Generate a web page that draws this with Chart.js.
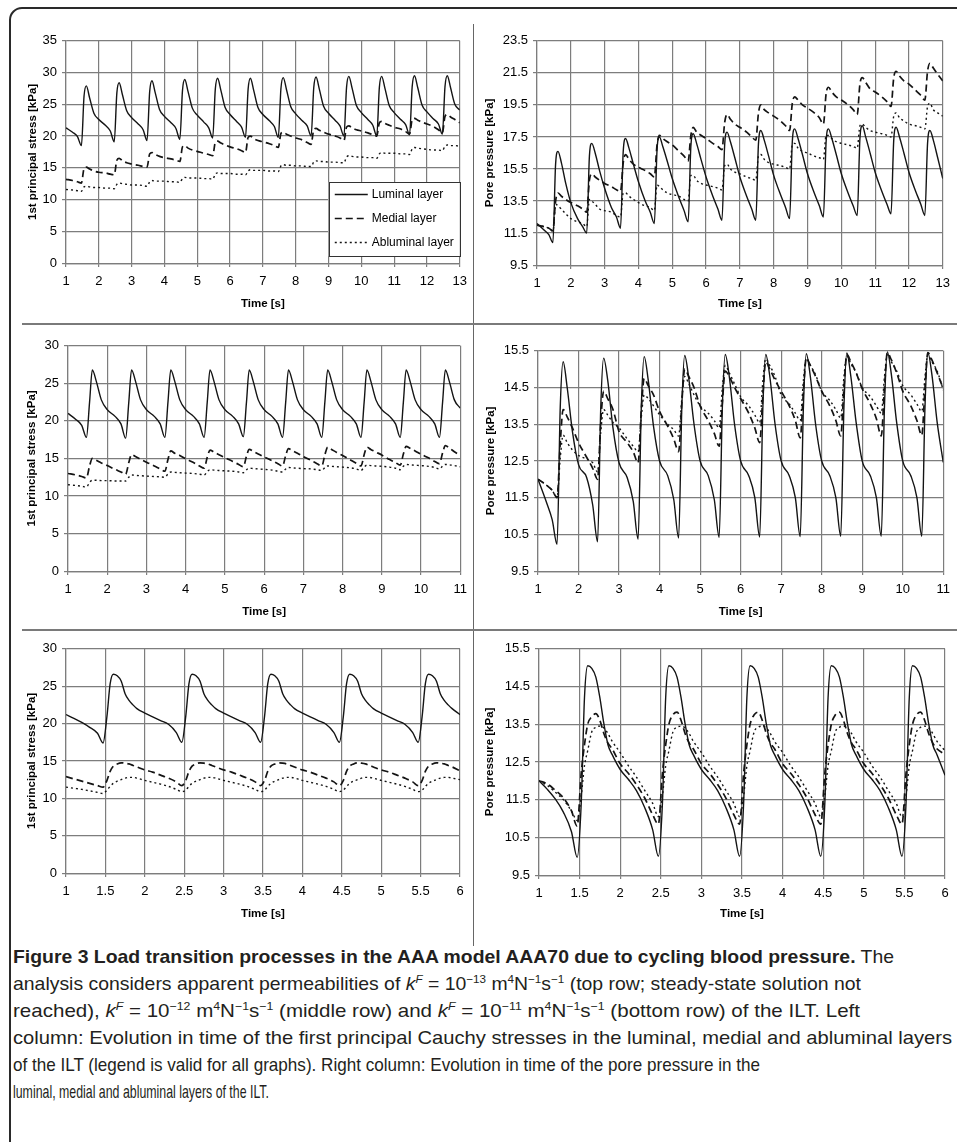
<!DOCTYPE html>
<html>
<head>
<meta charset="utf-8">
<script src="https://cdn.jsdelivr.net/npm/chart.js@4.4.1/dist/chart.umd.min.js"></script>
<style>
  html, body { margin: 0; padding: 0; background: #fff; overflow: hidden; width: 957px; height: 1142px; }
  #frame { position: absolute; left: 9px; top: 7px; width: 1000px; height: 1200px; border: 2px solid #2a2a2a; border-radius: 13px; box-sizing: border-box; }
  .vdiv { position: absolute; left: 473px; top: 24px; width: 1px; height: 922px; background: #666; }
  .hdiv { position: absolute; left: 22px; width: 935px; height: 2px; background: #7a7a7a; }
  canvas { position: absolute; }
  #caption { position: absolute; left: 13px; top: 943px; font-family: 'Liberation Sans', Arial, sans-serif; font-size: 19px; line-height: 27px; color: #231f20; }
  .ln { white-space: nowrap; transform-origin: 0 50%; width: max-content; }
  sup { font-size: 0.6em; line-height: 0; vertical-align: 0.6em; }
</style>
</head>
<body>
<div id="frame"></div>
<div class="vdiv"></div>
<div class="hdiv" style="top:323px"></div>
<div class="hdiv" style="top:629px"></div>

<div id="caption">
  <div class="ln" data-w="881"><b>Figure 3 Load transition processes in the AAA model AAA70 due to cycling blood pressure.</b> The</div>
  <div class="ln" data-w="848">analysis considers apparent permeabilities of <i>k</i><sup><i>F</i></sup> = 10<sup>−13</sup> m<sup>4</sup>N<sup>−1</sup>s<sup>−1</sup> (top row; steady-state solution not</div>
  <div class="ln" data-w="847">reached), <i>k</i><sup><i>F</i></sup> = 10<sup>−12</sup> m<sup>4</sup>N<sup>−1</sup>s<sup>−1</sup> (middle row) and <i>k</i><sup><i>F</i></sup> = 10<sup>−11</sup> m<sup>4</sup>N<sup>−1</sup>s<sup>−1</sup> (bottom row) of the ILT. Left</div>
  <div class="ln" data-w="939">column: Evolution in time of the first principal Cauchy stresses in the luminal, medial and abluminal layers</div>
  <div class="ln" data-w="747">of the ILT (legend is valid for all graphs). Right column: Evolution in time of the pore pressure in the</div>
  <div class="ln" data-w="256">luminal, medial and abluminal layers of the ILT.</div>
</div>

<script>
// Series names (legend)
const seriesNames = ["Luminal layer", "Medial layer", "Abluminal layer"];

// Tick labels
const timeTicks13 = [1, 2, 3, 4, 5, 6, 7, 8, 9, 10, 11, 12, 13];
const timeTicks11 = [1, 2, 3, 4, 5, 6, 7, 8, 9, 10, 11];
const timeTicks6 = [1, 1.5, 2, 2.5, 3, 3.5, 4, 4.5, 5, 5.5, 6];
const stressTicks35 = [0, 5, 10, 15, 20, 25, 30, 35];
const stressTicks30 = [0, 5, 10, 15, 20, 25, 30];
const poreTicksTop = [9.5, 11.5, 13.5, 15.5, 17.5, 19.5, 21.5, 23.5];
const poreTicks = [9.5, 10.5, 11.5, 12.5, 13.5, 14.5, 15.5];

// ---- top row (k = 1e-13), time 1..13 s
const timeTop = [
  1, 1.2, 1.35, 1.47, 1.55, 1.62, 1.72, 1.85,
  2, 2.2, 2.35, 2.47, 2.55, 2.62, 2.72, 2.85,
  3, 3.2, 3.35, 3.47, 3.55, 3.62, 3.72, 3.85,
  4, 4.2, 4.35, 4.47, 4.55, 4.62, 4.72, 4.85,
  5, 5.2, 5.35, 5.47, 5.55, 5.62, 5.72, 5.85,
  6, 6.2, 6.35, 6.47, 6.55, 6.62, 6.72, 6.85,
  7, 7.2, 7.35, 7.47, 7.55, 7.62, 7.72, 7.85,
  8, 8.2, 8.35, 8.47, 8.55, 8.62, 8.72, 8.85,
  9, 9.2, 9.35, 9.47, 9.55, 9.62, 9.72, 9.85,
  10, 10.2, 10.35, 10.47, 10.55, 10.62, 10.72, 10.85,
  11, 11.2, 11.35, 11.47, 11.55, 11.62, 11.72, 11.85,
  12, 12.2, 12.35, 12.47, 12.55, 12.62, 12.72, 12.85,
  13
];
const stressLumTop = [
  21.3, 20.6, 19.9, 18.5, 26.3, 27.9, 26.0, 23.6,
  22.6, 21.7, 20.8, 19.1, 26.8, 28.4, 26.5, 24.0,
  22.9, 21.9, 21.0, 19.3, 27.0, 28.7, 26.8, 24.2,
  23.1, 22.1, 21.2, 19.5, 27.2, 28.9, 27.0, 24.4,
  23.3, 22.2, 21.3, 19.7, 27.4, 29.1, 27.2, 24.5,
  23.4, 22.3, 21.4, 19.8, 27.4, 29.1, 27.2, 24.5,
  23.4, 22.4, 21.5, 19.8, 27.5, 29.2, 27.3, 24.6,
  23.5, 22.4, 21.6, 20.0, 27.6, 29.3, 27.4, 24.7,
  23.6, 22.5, 21.6, 20.0, 27.7, 29.4, 27.5, 24.8,
  23.7, 22.6, 21.7, 20.0, 27.7, 29.4, 27.5, 24.8,
  23.7, 22.6, 21.8, 20.2, 27.8, 29.5, 27.6, 24.9,
  23.8, 22.7, 21.9, 20.3, 27.8, 29.5, 27.6, 25.0,
  24.1
];
const stressMedTop = [
  13.2, 13.0, 12.8, 12.6, 14.9, 15.1, 14.8, 14.5,
  14.3, 14.2, 14.0, 13.9, 16.2, 16.5, 16.1, 15.8,
  15.6, 15.4, 15.2, 15.1, 17.2, 17.4, 17.1, 16.8,
  16.6, 16.4, 16.2, 16.0, 18.3, 18.5, 18.1, 17.8,
  17.6, 17.3, 17.1, 16.9, 19.0, 19.2, 18.9, 18.6,
  18.3, 18.0, 17.7, 17.4, 19.8, 20.0, 19.6, 19.3,
  19.1, 18.8, 18.5, 18.2, 20.4, 20.6, 20.3, 20.0,
  19.7, 19.4, 19.0, 18.7, 21.0, 21.2, 20.9, 20.6,
  20.3, 20.0, 19.7, 19.3, 21.4, 21.6, 21.3, 21.0,
  20.8, 20.5, 20.2, 20.0, 22.1, 22.3, 22.0, 21.7,
  21.4, 21.1, 20.7, 20.3, 22.6, 22.8, 22.5, 22.2,
  21.9, 21.5, 21.0, 20.5, 23.1, 23.4, 23.0, 22.6,
  22.1
];
const stressAblTop = [
  11.6, 11.5, 11.4, 11.3, 12.0, 12.1, 12.0, 11.9,
  11.9, 11.8, 11.8, 11.7, 12.4, 12.6, 12.5, 12.4,
  12.3, 12.3, 12.2, 12.1, 12.8, 13.0, 12.9, 12.9,
  12.9, 12.8, 12.8, 12.7, 13.3, 13.5, 13.4, 13.4,
  13.4, 13.3, 13.3, 13.2, 14.0, 14.2, 14.1, 14.1,
  14.1, 14.0, 14.0, 13.9, 14.5, 14.7, 14.6, 14.6,
  14.6, 14.5, 14.5, 14.4, 15.3, 15.5, 15.4, 15.4,
  15.3, 15.3, 15.2, 15.2, 15.9, 16.1, 16.0, 16.0,
  15.9, 15.9, 15.8, 15.8, 16.7, 16.9, 16.8, 16.7,
  16.7, 16.6, 16.6, 16.5, 17.2, 17.4, 17.3, 17.3,
  17.3, 17.2, 17.2, 17.1, 18.0, 18.2, 18.1, 18.0,
  17.9, 17.8, 17.8, 17.7, 18.4, 18.6, 18.5, 18.5,
  18.4
];
const poreLumTop = [
  12.1, 11.7, 11.4, 10.9, 15.8, 16.6, 15.9, 14.6,
  13.4, 12.4, 11.9, 11.5, 16.3, 17.1, 16.5, 15.4,
  14.3, 13.1, 12.5, 11.8, 16.6, 17.4, 16.8, 15.8,
  14.7, 13.5, 12.8, 12.1, 16.7, 17.5, 16.9, 16.0,
  14.9, 13.7, 12.9, 12.2, 16.9, 17.7, 17.1, 16.1,
  15.0, 13.8, 13.0, 12.3, 17.0, 17.8, 17.2, 16.2,
  15.0, 13.8, 13.0, 12.3, 17.1, 17.9, 17.3, 16.3,
  15.1, 13.9, 13.1, 12.4, 17.2, 18.0, 17.4, 16.4,
  15.2, 14.0, 13.2, 12.5, 17.2, 18.0, 17.4, 16.4,
  15.2, 14.0, 13.2, 12.6, 17.4, 18.2, 17.5, 16.5,
  15.3, 14.1, 13.3, 12.7, 17.3, 18.1, 17.5, 16.5,
  15.3, 14.1, 13.3, 12.6, 17.1, 17.9, 17.3, 16.2,
  14.9
];
const poreMedTop = [
  12.0, 11.9, 11.8, 11.65, 13.5, 14.0, 13.8, 13.6,
  13.4, 13.2, 13.0, 12.8, 14.8, 15.2, 15.0, 14.8,
  14.6, 14.4, 14.2, 14.1, 15.9, 16.4, 16.1, 15.8,
  15.6, 15.4, 15.2, 15.0, 17.0, 17.6, 17.4, 17.2,
  17.0, 16.6, 16.3, 16.0, 17.6, 18.1, 17.8, 17.6,
  17.4, 17.1, 16.9, 16.7, 18.4, 18.9, 18.6, 18.3,
  18.1, 17.8, 17.5, 17.3, 19.0, 19.5, 19.2, 19.0,
  18.8, 18.5, 18.2, 17.9, 19.6, 20.0, 19.8, 19.5,
  19.3, 19.0, 18.7, 18.3, 20.2, 20.6, 20.3, 20.0,
  19.8, 19.5, 19.2, 18.9, 20.8, 21.2, 20.9, 20.5,
  20.3, 20.0, 19.7, 19.4, 21.2, 21.6, 21.3, 21.0,
  20.8, 20.4, 20.1, 19.8, 21.6, 22.1, 21.8, 21.4,
  21.0
];
const poreAblTop = [
  12.0, 11.9, 11.8, 11.6, 13.3, 13.2, 13.0, 12.7,
  12.4, 12.2, 12.1, 11.9, 13.6, 13.5, 13.3, 13.0,
  12.9, 12.8, 12.6, 12.5, 14.0, 14.0, 13.8, 13.6,
  13.4, 13.2, 13.1, 12.9, 14.5, 14.4, 14.2, 14.0,
  13.9, 13.8, 13.6, 13.5, 15.1, 15.1, 14.8, 14.6,
  14.5, 14.4, 14.3, 14.2, 15.7, 15.8, 15.5, 15.3,
  15.2, 15.0, 14.9, 14.8, 16.3, 16.4, 16.1, 15.9,
  15.8, 15.7, 15.6, 15.5, 17.0, 17.1, 16.8, 16.6,
  16.5, 16.3, 16.2, 16.1, 17.6, 17.6, 17.4, 17.2,
  17.1, 17.0, 16.9, 16.8, 18.2, 18.3, 18.1, 17.9,
  17.8, 17.7, 17.6, 17.5, 18.8, 19.0, 18.7, 18.5,
  18.3, 18.2, 18.1, 18.0, 19.4, 19.6, 19.2, 19.0,
  18.8
];

// ---- middle row (k = 1e-12), time 1..11 s
const timeMid = [
  1, 1.2, 1.35, 1.47, 1.55, 1.62, 1.72, 1.85,
  2, 2.2, 2.35, 2.47, 2.55, 2.62, 2.72, 2.85,
  3, 3.2, 3.35, 3.47, 3.55, 3.62, 3.72, 3.85,
  4, 4.2, 4.35, 4.47, 4.55, 4.62, 4.72, 4.85,
  5, 5.2, 5.35, 5.47, 5.55, 5.62, 5.72, 5.85,
  6, 6.2, 6.35, 6.47, 6.55, 6.62, 6.72, 6.85,
  7, 7.2, 7.35, 7.47, 7.55, 7.62, 7.72, 7.85,
  8, 8.2, 8.35, 8.47, 8.55, 8.62, 8.72, 8.85,
  9, 9.2, 9.35, 9.47, 9.55, 9.62, 9.72, 9.85,
  10, 10.2, 10.35, 10.47, 10.55, 10.62, 10.72, 10.85,
  11
];
const stressLumMid = [
  21.0, 20.2, 19.4, 17.8, 22.5, 26.8, 25.3, 22.8,
  21.5, 20.6, 19.6, 17.7, 22.5, 26.8, 25.3, 22.8,
  21.5, 20.6, 19.6, 17.8, 22.6, 26.8, 25.3, 22.8,
  21.5, 20.6, 19.6, 17.8, 22.5, 26.8, 25.3, 22.8,
  21.5, 20.6, 19.6, 17.9, 22.5, 26.8, 25.3, 22.8,
  21.5, 20.6, 19.6, 17.8, 22.5, 26.8, 25.3, 22.8,
  21.5, 20.6, 19.6, 17.8, 22.6, 26.8, 25.3, 22.8,
  21.5, 20.6, 19.6, 17.8, 22.5, 26.8, 25.3, 22.8,
  21.5, 20.6, 19.6, 17.8, 22.5, 26.8, 25.3, 22.8,
  21.5, 20.6, 19.6, 17.8, 22.5, 26.8, 25.3, 22.8,
  21.7
];
const stressMedMid = [
  13.0, 12.8, 12.6, 12.4, 14.0, 15.0, 14.75, 14.4,
  14.05, 13.55, 13.2, 12.9, 14.45, 15.5, 15.25, 14.9,
  14.5, 14.0, 13.6, 13.3, 14.9, 16.0, 15.7, 15.4,
  14.95, 14.45, 14.0, 13.7, 15.15, 16.1, 15.85, 15.5,
  15.1, 14.6, 14.2, 13.9, 15.3, 16.2, 15.95, 15.6,
  15.2, 14.7, 14.3, 14.0, 15.4, 16.3, 16.05, 15.7,
  15.25, 14.75, 14.3, 14.0, 15.5, 16.5, 16.2, 15.8,
  15.4, 14.8, 14.35, 14.0, 15.5, 16.5, 16.2, 15.85,
  15.45, 14.85, 14.45, 14.1, 15.6, 16.6, 16.35, 16.0,
  15.55, 15.05, 14.6, 14.3, 15.75, 16.7, 16.4, 15.9,
  15.4
];
const stressAblMid = [
  11.5, 11.4, 11.3, 11.2, 11.8, 12.1, 12.1, 12.05,
  12.05, 12.0, 12.0, 12.0, 12.5, 12.8, 12.75, 12.7,
  12.65, 12.6, 12.55, 12.5, 12.95, 13.2, 13.15, 13.1,
  13.05, 13.0, 12.9, 12.8, 13.25, 13.5, 13.45, 13.4,
  13.35, 13.3, 13.2, 13.1, 13.5, 13.7, 13.65, 13.6,
  13.55, 13.45, 13.3, 13.2, 13.6, 13.8, 13.75, 13.7,
  13.65, 13.6, 13.5, 13.4, 13.8, 14.0, 13.95, 13.9,
  13.85, 13.75, 13.6, 13.4, 13.85, 14.1, 14.05, 14.0,
  13.95, 13.85, 13.7, 13.5, 13.95, 14.2, 14.15, 14.1,
  14.05, 13.95, 13.8, 13.6, 14.0, 14.2, 14.15, 14.05,
  13.9
];
const poreLumMid = [
  12.0, 11.4, 10.9, 10.23, 14.0, 15.2, 14.5, 13.3,
  12.4, 12.05, 11.3, 10.3, 14.0, 15.3, 14.7, 13.4,
  12.45, 12.05, 11.4, 10.37, 14.0, 15.34, 14.7, 13.45,
  12.5, 12.1, 11.45, 10.4, 14.0, 15.37, 14.75, 13.5,
  12.5, 12.1, 11.45, 10.42, 14.0, 15.4, 14.8, 13.5,
  12.5, 12.1, 11.5, 10.43, 14.0, 15.4, 14.8, 13.5,
  12.5, 12.1, 11.5, 10.44, 14.0, 15.42, 14.8, 13.5,
  12.5, 12.1, 11.5, 10.45, 14.0, 15.44, 14.8, 13.55,
  12.5, 12.1, 11.5, 10.45, 14.0, 15.47, 14.85, 13.55,
  12.5, 12.1, 11.5, 10.45, 14.0, 15.45, 14.85, 13.55,
  12.46
];
const poreMedMid = [
  12.0, 11.85, 11.7, 11.5, 13.0, 13.9, 13.7, 13.4,
  13.0, 12.6, 12.3, 12.0, 13.6, 14.4, 14.2, 13.9,
  13.3, 13.0, 12.75, 12.45, 13.9, 14.75, 14.55, 14.3,
  13.85, 13.45, 13.1, 12.75, 14.1, 15.0, 14.8, 14.5,
  14.0, 13.6, 13.25, 12.9, 14.1, 14.95, 14.8, 14.5,
  14.2, 13.8, 13.4, 13.0, 14.3, 15.2, 15.0, 14.7,
  14.4, 14.0, 13.6, 13.13, 14.4, 15.3, 15.1, 14.8,
  14.4, 14.0, 13.6, 13.18, 14.5, 15.4, 15.2, 14.9,
  14.47, 14.05, 13.65, 13.18, 14.5, 15.45, 15.25, 14.9,
  14.4, 14.0, 13.6, 13.2, 14.5, 15.45, 15.25, 14.9,
  14.47
];
const poreAblMid = [
  12.0, 11.85, 11.7, 11.5, 12.6, 13.2, 13.0, 12.8,
  12.65, 12.55, 12.45, 12.2, 13.3, 13.9, 13.75, 13.55,
  13.4, 13.1, 12.9, 12.75, 13.7, 14.3, 14.2, 14.0,
  13.76, 13.5, 13.35, 13.18, 14.2, 14.8, 14.6, 14.3,
  14.0, 13.8, 13.6, 13.4, 14.5, 15.1, 14.9, 14.6,
  14.25, 14.0, 13.75, 13.54, 14.7, 15.28, 15.1, 14.8,
  14.3, 14.05, 13.8, 13.6, 14.7, 15.3, 15.1, 14.85,
  14.4, 14.15, 13.9, 13.67, 14.8, 15.35, 15.15, 14.9,
  14.5, 14.25, 14.0, 13.8, 14.8, 15.4, 15.2, 14.95,
  14.55, 14.3, 14.05, 13.85, 14.8, 15.4, 15.2, 14.95,
  14.43
];

// ---- bottom row (k = 1e-11), time 1..6 s
const timeBot = [
  1, 1.1, 1.2, 1.3, 1.4, 1.47, 1.52, 1.56, 1.6, 1.65, 1.7, 1.75, 1.8, 1.85, 1.9,
  2, 2.1, 2.2, 2.3, 2.4, 2.47, 2.52, 2.56, 2.6, 2.65, 2.7, 2.75, 2.8, 2.85, 2.9,
  3, 3.1, 3.2, 3.3, 3.4, 3.47, 3.52, 3.56, 3.6, 3.65, 3.7, 3.75, 3.8, 3.85, 3.9,
  4, 4.1, 4.2, 4.3, 4.4, 4.47, 4.52, 4.56, 4.6, 4.65, 4.7, 4.75, 4.8, 4.85, 4.9,
  5, 5.1, 5.2, 5.3, 5.4, 5.47, 5.52, 5.56, 5.6, 5.65, 5.7, 5.75, 5.8, 5.85, 5.9,
  6
];
const stressLumBot = [
  21.2, 20.7, 20.15, 19.5, 18.7, 17.4, 21.0, 25.3, 26.6, 26.4, 25.7, 24.0, 23.1, 22.5, 22.0,
  21.4, 20.9, 20.4, 19.9, 18.8, 17.5, 21.0, 25.3, 26.6, 26.4, 25.7, 24.0, 23.1, 22.5, 22.0,
  21.4, 20.9, 20.4, 19.9, 18.8, 17.5, 21.0, 25.3, 26.6, 26.4, 25.7, 24.0, 23.1, 22.5, 22.0,
  21.4, 20.9, 20.4, 19.9, 18.8, 17.5, 21.0, 25.3, 26.6, 26.4, 25.7, 24.0, 23.1, 22.5, 22.0,
  21.4, 20.9, 20.4, 19.9, 18.8, 17.5, 21.0, 25.3, 26.6, 26.4, 25.7, 24.0, 23.1, 22.5, 22.0,
  21.2
];
const stressMedBot = [
  12.9, 12.6, 12.3, 12.0, 11.7, 11.5, 12.4, 13.6, 14.3, 14.6, 14.75, 14.7, 14.6, 14.4, 14.2,
  13.8, 13.5, 13.1, 12.7, 12.2, 11.7, 12.4, 13.6, 14.3, 14.6, 14.75, 14.7, 14.6, 14.4, 14.2,
  13.8, 13.5, 13.1, 12.7, 12.2, 11.7, 12.4, 13.6, 14.3, 14.6, 14.75, 14.7, 14.6, 14.4, 14.2,
  13.8, 13.5, 13.1, 12.7, 12.2, 11.7, 12.4, 13.6, 14.3, 14.6, 14.75, 14.7, 14.6, 14.4, 14.2,
  13.8, 13.5, 13.1, 12.7, 12.2, 11.7, 12.4, 13.6, 14.3, 14.6, 14.75, 14.7, 14.6, 14.4, 14.2,
  13.7
];
const stressAblBot = [
  11.5, 11.35, 11.2, 11.0, 10.8, 10.65, 11.1, 11.6, 12.0, 12.3, 12.5, 12.7, 12.8, 12.8, 12.7,
  12.4, 12.15, 11.9, 11.6, 11.2, 10.9, 11.1, 11.6, 12.0, 12.3, 12.5, 12.7, 12.8, 12.8, 12.7,
  12.4, 12.15, 11.9, 11.6, 11.2, 10.9, 11.1, 11.6, 12.0, 12.3, 12.5, 12.7, 12.8, 12.8, 12.7,
  12.4, 12.15, 11.9, 11.6, 11.2, 10.9, 11.1, 11.6, 12.0, 12.3, 12.5, 12.7, 12.8, 12.8, 12.7,
  12.4, 12.15, 11.9, 11.6, 11.2, 10.9, 11.1, 11.6, 12.0, 12.3, 12.5, 12.7, 12.8, 12.8, 12.7,
  12.5
];
const poreLumBot = [
  12.0, 11.78, 11.52, 11.17, 10.65, 9.97, 11.4, 14.2, 15.05, 14.98, 14.75, 14.2, 13.5, 12.95, 12.7,
  12.3, 12.04, 11.74, 11.3, 10.7, 10.0, 11.4, 14.2, 15.05, 14.98, 14.75, 14.2, 13.5, 12.95, 12.7,
  12.3, 12.04, 11.74, 11.3, 10.7, 10.0, 11.4, 14.2, 15.05, 14.98, 14.75, 14.2, 13.5, 12.95, 12.7,
  12.3, 12.04, 11.74, 11.3, 10.7, 10.0, 11.4, 14.2, 15.05, 14.98, 14.75, 14.2, 13.5, 12.95, 12.7,
  12.3, 12.04, 11.74, 11.3, 10.7, 10.0, 11.4, 14.2, 15.05, 14.98, 14.75, 14.2, 13.5, 12.95, 12.7,
  12.15
];
const poreMedBot = [
  12.0, 11.92, 11.75, 11.55, 11.2, 10.8, 12.2, 12.95, 13.5, 13.7, 13.78, 13.6, 13.25, 13.0, 12.85,
  12.45, 12.2, 11.9, 11.55, 11.1, 10.85, 12.2, 12.95, 13.5, 13.75, 13.82, 13.6, 13.25, 13.0, 12.85,
  12.45, 12.2, 11.9, 11.55, 11.1, 10.85, 12.2, 12.95, 13.5, 13.75, 13.82, 13.6, 13.25, 13.0, 12.85,
  12.45, 12.2, 11.9, 11.55, 11.1, 10.85, 12.2, 12.95, 13.5, 13.75, 13.82, 13.6, 13.25, 13.0, 12.85,
  12.45, 12.2, 11.9, 11.55, 11.1, 10.85, 12.2, 12.95, 13.5, 13.75, 13.82, 13.6, 13.25, 13.0, 12.85,
  12.7
];
const poreAblBot = [
  12.0, 11.88, 11.7, 11.5, 11.2, 10.95, 11.6, 12.4, 12.8, 13.3, 13.42, 13.45, 13.4, 13.25, 13.05,
  12.75, 12.4, 12.1, 11.75, 11.4, 11.05, 11.6, 12.4, 12.8, 13.3, 13.42, 13.45, 13.4, 13.25, 13.05,
  12.75, 12.4, 12.1, 11.75, 11.4, 11.05, 11.6, 12.4, 12.8, 13.3, 13.42, 13.45, 13.4, 13.25, 13.05,
  12.75, 12.4, 12.1, 11.75, 11.4, 11.05, 11.6, 12.4, 12.8, 13.3, 13.42, 13.45, 13.4, 13.25, 13.05,
  12.75, 12.4, 12.1, 11.75, 11.4, 11.05, 11.6, 12.4, 12.8, 13.3, 13.42, 13.45, 13.4, 13.25, 13.05,
  12.8
];

// Line styles for the three layers
const lineStyles = [
  { borderWidth: 1.4, borderDash: [] },
  { borderWidth: 1.7, borderDash: [7, 4] },
  { borderWidth: 1.4, borderDash: [2, 3] }
];

const FONT = "'Liberation Sans', Arial, sans-serif";
Chart.defaults.font.family = FONT;
Chart.defaults.font.size = 13;
Chart.defaults.color = "#000";

// Legend box drawn inside the plot (top-left panel only)
const legendBox = {
  id: "legendBox",
  afterDatasetsDraw(chart) {
    const { ctx, chartArea } = chart;
    const w = 131, h = 74;
    const x0 = chartArea.right - w, y0 = chartArea.bottom - 7 - h;
    ctx.save();
    ctx.fillStyle = "#fff";
    ctx.fillRect(x0, y0, w, h);
    ctx.strokeStyle = "#333";
    ctx.lineWidth = 1;
    ctx.strokeRect(Math.round(x0) + 0.5, Math.round(y0) + 0.5, w, h);
    chart.data.datasets.forEach((ds, i) => {
      const y = Math.round(y0 + 12 + i * 24) + 0.5;
      ctx.beginPath();
      ctx.setLineDash(ds.borderDash);
      ctx.lineWidth = ds.borderWidth;
      ctx.strokeStyle = ds.borderColor;
      ctx.moveTo(x0 + 6, y);
      ctx.lineTo(x0 + 39, y);
      ctx.stroke();
      ctx.setLineDash([]);
      ctx.fillStyle = "#000";
      ctx.font = "12px " + FONT;
      ctx.textBaseline = "middle";
      ctx.fillText(ds.label, x0 + 43, y);
    });
    ctx.restore();
  }
};

function toPoints(xs, ys) {
  return xs.map((x, i) => ({ x, y: ys[i] }));
}

// plot rect (page px), y-title centre, x-title centre
function makePanel(p) {
  const PT = 10, PR = p.padRight;
  const left = Math.round(p.titleX - 10.9);
  const yw = p.l - left;
  const plotW = p.r - p.l, plotH = p.b - p.t;
  const xh = p.titleY - p.b + 10.9;
  const canvas = document.createElement("canvas");
  canvas.width = yw + plotW + PR;
  canvas.height = PT + plotH + xh;
  canvas.style.left = left + "px";
  canvas.style.top = (p.t - PT) + "px";
  document.body.appendChild(canvas);

  const grid = { color: "#7d7d7d", lineWidth: 1.2, tickLength: 4, drawTicks: true };
  const border = { color: "#7d7d7d", width: 1.2 };
  const titleFont = { size: 11.5, weight: "bold" };

  new Chart(canvas, {
    type: "line",
    data: {
      datasets: p.series.map((ys, i) => ({
        label: seriesNames[i],
        data: toPoints(p.times, ys),
        borderColor: "#141414",
        borderWidth: lineStyles[i].borderWidth,
        borderDash: lineStyles[i].borderDash,
        pointRadius: 0,
        cubicInterpolationMode: "monotone",
        fill: false
      }))
    },
    options: {
      responsive: false,
      animation: false,
      layout: { padding: { top: PT, right: PR, left: 0, bottom: 0 } },
      plugins: { legend: { display: false }, tooltip: { enabled: false } },
      scales: {
        x: {
          type: "linear",
          min: p.xTicks[0],
          max: p.xTicks[p.xTicks.length - 1],
          grid, border,
          afterBuildTicks: (s) => { s.ticks = p.xTicks.map(v => ({ value: v })); },
          afterFit: (s) => { s.height = xh; },
          ticks: { autoSkip: false, maxRotation: 0, padding: 7, color: "#000", callback: (v) => String(v) },
          title: { display: true, text: "Time [s]", font: titleFont, color: "#000" }
        },
        y: {
          type: "linear",
          min: p.yTicks[0],
          max: p.yTicks[p.yTicks.length - 1],
          grid, border,
          afterBuildTicks: (s) => { s.ticks = p.yTicks.map(v => ({ value: v })); },
          afterFit: (s) => { s.width = yw; },
          ticks: { padding: 5, color: "#000", callback: (v) => String(v) },
          title: { display: true, text: p.yTitle, font: titleFont, color: "#000" }
        }
      }
    },
    plugins: p.legend ? [legendBox] : []
  });
}

const stressTitle = "1st principal stress [kPa]";
const poreTitle = "Pore pressure [kPa]";

makePanel({ l: 66, t: 38, r: 462, b: 264, titleX: 33, titleY: 305, padRight: 12,
  times: timeTop, series: [stressLumTop, stressMedTop, stressAblTop],
  xTicks: timeTicks13, yTicks: stressTicks35, yTitle: stressTitle, legend: true });
makePanel({ l: 537, t: 38, r: 947, b: 266, titleX: 490, titleY: 305, padRight: 10,
  times: timeTop, series: [poreLumTop, poreMedTop, poreAblTop],
  xTicks: timeTicks13, yTicks: poreTicksTop, yTitle: poreTitle });
makePanel({ l: 68, t: 343, r: 462, b: 572, titleX: 32, titleY: 613, padRight: 12,
  times: timeMid, series: [stressLumMid, stressMedMid, stressAblMid],
  xTicks: timeTicks11, yTicks: stressTicks30, yTitle: stressTitle });
makePanel({ l: 538, t: 348, r: 947, b: 572, titleX: 491, titleY: 613, padRight: 10,
  times: timeMid, series: [poreLumMid, poreMedMid, poreAblMid],
  xTicks: timeTicks11, yTicks: poreTicks, yTitle: poreTitle });
makePanel({ l: 66, t: 646, r: 460, b: 874, titleX: 32, titleY: 915, padRight: 12,
  times: timeBot, series: [stressLumBot, stressMedBot, stressAblBot],
  xTicks: timeTicks6, yTicks: stressTicks30, yTitle: stressTitle });
makePanel({ l: 539, t: 646, r: 945, b: 876, titleX: 490, titleY: 915, padRight: 12,
  times: timeBot, series: [poreLumBot, poreMedBot, poreAblBot],
  xTicks: timeTicks6, yTicks: poreTicks, yTitle: poreTitle });

// squeeze caption lines to the measured widths
function fitCaption() {
  document.querySelectorAll("#caption .ln").forEach(el => {
    el.style.transform = "none";
    const w = el.getBoundingClientRect().width;
    const target = Number(el.dataset.w);
    if (w > 0) el.style.transform = "scaleX(" + (target / w).toFixed(4) + ")";
  });
}
fitCaption();
if (document.fonts && document.fonts.ready) document.fonts.ready.then(fitCaption);
</script>
</body>
</html>
